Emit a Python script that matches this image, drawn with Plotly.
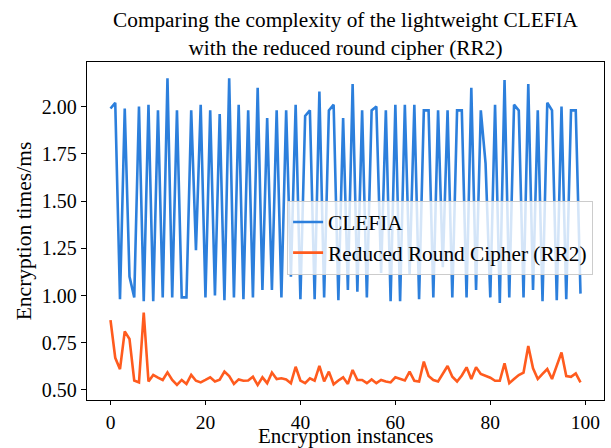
import plotly.graph_objects as go

instances = list(range(100))

clefia = [1.99, 2.02, 0.98, 1.99, 1.10, 0.99, 2.00, 0.97, 2.01, 0.97,
          1.98, 0.99, 2.15, 0.99, 1.98, 0.99, 0.99, 1.98, 1.24, 2.01,
          0.99, 1.98, 1.00, 1.96, 0.975, 2.15, 0.99, 2.01, 0.98, 1.98,
          0.99, 2.10, 1.03, 1.94, 1.03, 1.98, 0.99, 1.98, 1.10, 2.01,
          0.98, 1.95, 1.98, 0.98, 2.08, 0.99, 1.98, 2.01, 0.975, 1.94,
          1.03, 2.12, 1.02, 1.98, 0.99, 1.98, 2.00, 1.12, 1.98, 0.97,
          2.01, 0.97, 2.01, 1.11, 2.01, 0.98, 1.98, 1.98, 0.99, 1.98,
          1.15, 1.98, 0.99, 1.98, 1.98, 0.99, 2.10, 1.03, 1.98, 1.70,
          0.99, 2.01, 0.96, 2.14, 0.99, 2.01, 1.98, 0.99, 2.12, 1.03,
          1.98, 0.97, 2.02, 1.98, 0.975, 2.00, 0.98, 1.98, 1.98, 1.01]

rr2 = [0.87, 0.67, 0.61, 0.81, 0.77, 0.55, 0.54, 0.91, 0.545, 0.58,
       0.565, 0.553, 0.593, 0.553, 0.527, 0.553, 0.532, 0.58, 0.549, 0.54,
       0.553, 0.567, 0.545, 0.555, 0.597, 0.574, 0.532, 0.556, 0.549, 0.55,
       0.57, 0.526, 0.567, 0.536, 0.592, 0.558, 0.562, 0.556, 0.536, 0.623,
       0.55, 0.536, 0.562, 0.549, 0.628, 0.545, 0.597, 0.53, 0.55, 0.567,
       0.532, 0.606, 0.553, 0.553, 0.536, 0.556, 0.536, 0.553, 0.545, 0.54,
       0.567, 0.558, 0.55, 0.597, 0.549, 0.545, 0.65, 0.574, 0.553, 0.545,
       0.585, 0.627, 0.57, 0.545, 0.577, 0.62, 0.558, 0.62, 0.585, 0.574,
       0.565, 0.549, 0.549, 0.641, 0.536, 0.558, 0.579, 0.592, 0.733, 0.615,
       0.558, 0.585, 0.611, 0.558, 0.632, 0.699, 0.574, 0.57, 0.588, 0.54]

series_names = ["CLEFIA", "Reduced Round Cipher (RR2)"]
x_ticks = [0, 20, 40, 60, 80, 100]
y_ticks = [0.50, 0.75, 1.00, 1.25, 1.50, 1.75, 2.00]
x_title = "Encryption instances"
y_title = "Encryption times/ms"

FONT = "Liberation Serif, Times New Roman, serif"
H, MB, MT = 448, 48, 62
plot_h = H - MB - MT

fig = go.Figure()
fig.add_trace(go.Scatter(x=instances, y=clefia, mode="lines", name=series_names[0],
                         line=dict(color="#2c7fdc", width=2.6)))
fig.add_trace(go.Scatter(x=instances, y=rr2, mode="lines", name=series_names[1],
                         line=dict(color="#ff5b1e", width=2.6)))

axis_common = dict(showline=True, linecolor="black", linewidth=1.3, mirror=True,
                   ticks="outside", tickwidth=1.2, tickcolor="black",
                   showgrid=False, zeroline=False, automargin=False)

fig.update_layout(
    width=611, height=H,
    margin=dict(l=87, r=7, t=MT, b=MB),
    plot_bgcolor="white", paper_bgcolor="white",
    font=dict(family=FONT, size=20, color="black"),
    title=dict(text="Comparing the complexity of the lightweight CLEFIA<br>with the reduced round cipher (RR2)",
               x=0.5655, xanchor="center", y=1 - 27 / 448, yanchor="middle", yref="container",
               font=dict(family=FONT, size=21.3, color="black")),
    xaxis=dict(range=[-4.95, 103.95], tickvals=x_ticks, ticklen=4,
               tickfont=dict(family=FONT, size=19.5, color="black"), **axis_common),
    yaxis=dict(range=[0.447, 2.236], tickvals=y_ticks, tickformat=".2f", ticklen=5,
               tickfont=dict(family=FONT, size=20, color="black"),
               title=dict(text=y_title, standoff=4,
                          font=dict(family=FONT, size=21.5)),
               **axis_common),
    legend=dict(x=0.387, y=0.59, xanchor="left", yanchor="top",
                bgcolor="rgba(255,255,255,0.8)", bordercolor="#cccccc", borderwidth=1,
                font=dict(family=FONT, size=21.3, color="black"),
                tracegroupgap=0, itemwidth=30),
    showlegend=True,
    annotations=[dict(text=x_title, xref="paper", yref="paper", x=0.5, y=-MB / plot_h,
                      xanchor="center", yanchor="bottom", yshift=-2, showarrow=False,
                      font=dict(family=FONT, size=21, color="black"))],
)

fig.write_html("out.html", config={"displayModeBar": False},
               post_script="document.body.style.margin='0';document.body.style.overflow='hidden';")
